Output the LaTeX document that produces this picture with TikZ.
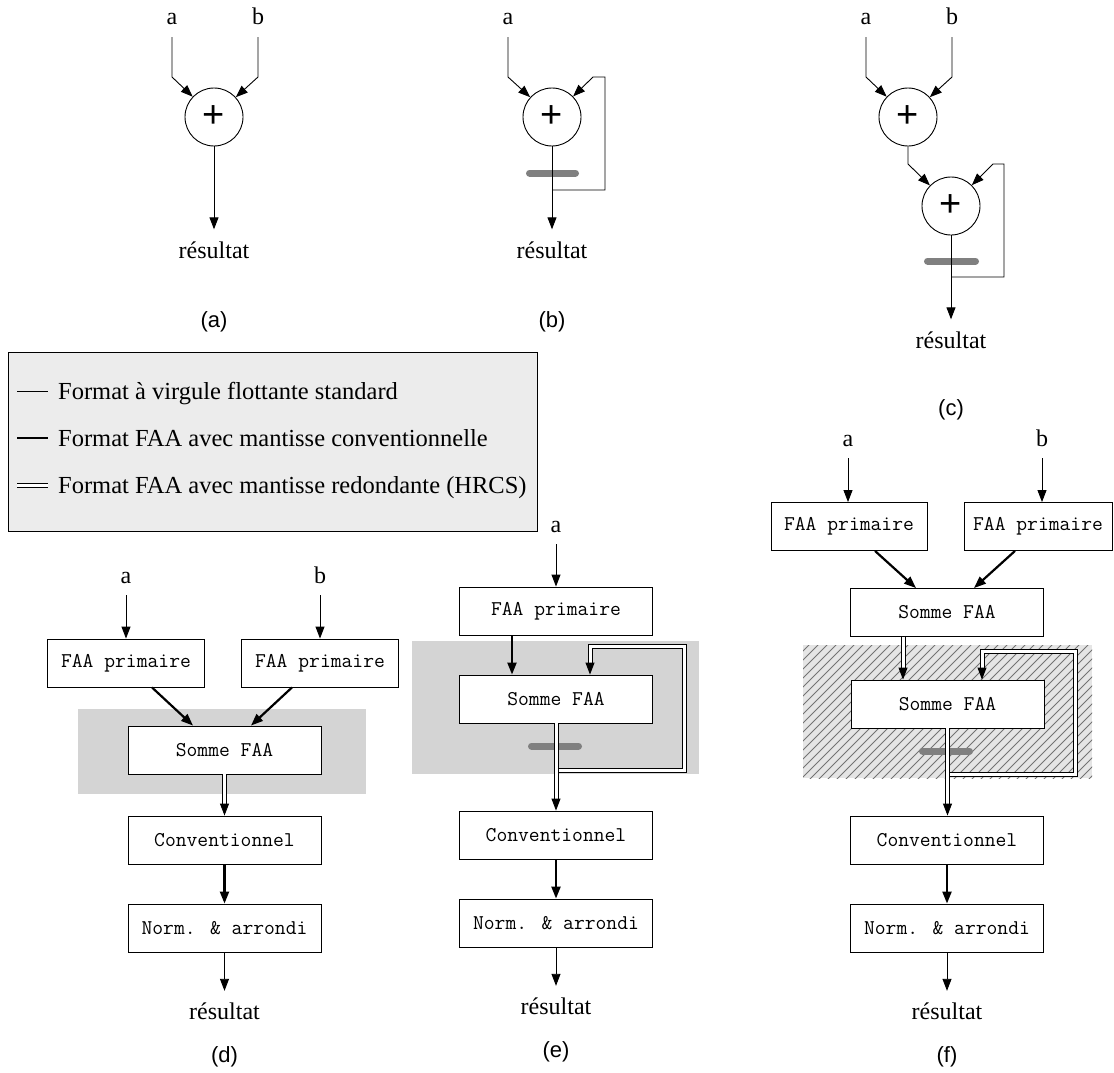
\documentclass[tikz,border=0pt]{standalone}
\usepackage{fontspec}
\setmainfont{Liberation Serif}
\setsansfont{Liberation Sans}
\usetikzlibrary{arrows.meta,calc}
\begin{document}
\begin{tikzpicture}[x=1pt,y=-1pt,
  thinln/.style={line width=0.9pt},
  thickln/.style={line width=2.2pt},
  dbl/.style={double, line width=1pt, double distance=3pt, line join=miter},
  arr/.style={-{Triangle[length=12pt,width=9pt]}},
  box/.style={draw, line width=0.9pt, fill=white, minimum height=48pt, inner sep=0pt, font=\ttfamily\fontsize{21}{23}\selectfont},
  adder/.style={circle, draw, line width=0.9pt, minimum size=58pt, inner sep=0pt, fill=white, font=\sffamily\fontsize{38}{40}\selectfont},
  lbl/.style={inner sep=0pt, outer sep=12pt, font=\rmfamily\fontsize{24}{28}\selectfont, anchor=base},
  capt/.style={font=\sffamily\fontsize{22}{26}\selectfont, inner sep=0pt},
  regbar/.style={line width=7pt, draw=gray, line cap=round},
  zone/.style={fill=gray!34},
  legtext/.style={font=\rmfamily\fontsize{24.5}{28}\selectfont, anchor=base west, inner sep=0pt},
]
\useasboundingbox (0,0) rectangle (1114,1073);

% ---------------- (a)
\node[lbl] (a_a) at (172,25) {a};
\node[lbl] (a_b) at (258,25) {b};
\node[adder] (a_add) at (214,117) {+};
\node[lbl] (a_res) at (214,258) {résultat};
\node[capt] (a_cap) at (214,322) {(a)};
\draw[thinln,arr] (a_a.south) -- (172,77) -- (a_add);
\draw[thinln,arr] (a_b.south) -- (258,77) -- (a_add);
\draw[thinln,arr] (a_add) -- (a_res.north);

% ---------------- (b)
\node[lbl] (b_a) at (508,25) {a};
\node[adder] (b_add) at (552,117) {+};
\node[lbl] (b_res) at (552,258) {résultat};
\node[capt] (b_cap) at (552,322) {(b)};
\coordinate (b_fb) at (552,190);
\draw[regbar] (529.5,173) -- (575.5,173);
\draw[thinln,arr] (b_a.south) -- (508,77) -- (b_add);
\draw[thinln,arr] (b_add) -- (b_res.north);
\draw[thinln,arr] (b_fb) -| (605,77) -- (593,77) -- (b_add);

% ---------------- (c)
\node[lbl] (c_a) at (866,25) {a};
\node[lbl] (c_b) at (952,25) {b};
\node[adder] (c_add1) at (908,117) {+};
\node[adder] (c_add2) at (951,206) {+};
\node[lbl] (c_res) at (951,348) {résultat};
\node[capt] (c_cap) at (951,410) {(c)};
\coordinate (c_fb) at (951,277);
\draw[regbar] (927.5,261) -- (975.5,261);
\draw[thinln,arr] (c_a.south) -- (866,77) -- (c_add1);
\draw[thinln,arr] (c_b.south) -- (952,77) -- (c_add1);
\draw[thinln,arr] (c_add1) -- (908,164) -- (c_add2);
\draw[thinln,arr] (c_add2) -- (c_res.north);
\draw[thinln,arr] (c_fb) -| (1004,164) -- (993,164) -- (c_add2);

% ---------------- legend
\node[draw, line width=0.9pt, fill=gray!15, minimum width=529pt, minimum height=179pt, inner sep=0pt] (legend) at (272.5,442) {};
\draw[thinln] (17,391) -- (48,391);
\draw[thickln] (17,438) -- (48,438);
\draw[dbl] (17,485) -- (48,485);
\node[legtext] (leg1) at (58,399) {Format à virgule flottante standard};
\node[legtext] (leg2) at (58,446) {Format FAA avec mantisse conventionnelle};
\node[legtext] (leg3) at (58,493) {Format FAA avec mantisse redondante (HRCS)};

% ---------------- (d)
\fill[zone] (78,709) rectangle (366,794);
\node[lbl] (d_a) at (126,583) {a};
\node[lbl] (d_b) at (320,583) {b};
\node[box, minimum width=157pt] (d_p1) at (126,663) {FAA primaire};
\node[box, minimum width=157pt] (d_p2) at (320,663) {FAA primaire};
\node[box, minimum width=193pt] (d_s) at (224.5,750) {Somme FAA};
\node[box, minimum width=193pt] (d_c) at (224.5,840) {Conventionnel};
\node[box, minimum width=193pt] (d_n) at (224.5,928) {Norm. \& arrondi};
\node[lbl] (d_res) at (224.5,1019.5) {résultat};
\node[capt] (d_cap) at (224.5,1057) {(d)};
\draw[thinln,arr] (d_a.south) -- (d_p1.north);
\draw[thinln,arr] (d_b.south) -- (d_p2.north);
\draw[thickln,arr] ($(d_p1.south)+(26,0)$) -- ($(d_s.north)+(-31.5,0)$);
\draw[thickln,arr] ($(d_p2.south)+(-28,0)$) -- ($(d_s.north)+(26.5,0)$);
\draw[dbl] (d_s.south) -- ($(d_c.north)+(0,-11)$);
\draw[thinln,arr] ($(d_c.north)+(0,-12)$) -- (d_c.north);
\draw[thickln,arr] (d_c.south) -- (d_n.north);
\draw[thinln,arr] (d_n.south) -- (d_res.north);

% ---------------- (e)
\fill[zone] (412,641) rectangle (699,774);
\node[lbl] (e_a) at (556,532) {a};
\node[box, minimum width=193pt] (e_p) at (556,611) {FAA primaire};
\node[box, minimum width=193pt] (e_s) at (556,699) {Somme FAA};
\node[box, minimum width=193pt] (e_c) at (556,835) {Conventionnel};
\node[box, minimum width=193pt] (e_n) at (556,923) {Norm. \& arrondi};
\node[lbl] (e_res) at (556,1014.5) {résultat};
\node[capt] (e_cap) at (556,1052) {(e)};
\coordinate (e_j) at (558.5,770);
\draw[regbar] (531.5,746) -- (578.5,746);
\draw[thinln,arr] (e_a.south) -- (e_p.north);
\draw[thickln,arr] ($(e_p.south)+(-44,0)$) -- ($(e_s.north)+(-44,0)$);
\draw[dbl] (e_s.south) -- ($(e_c.north)+(0,-11)$);
\draw[thinln,arr] ($(e_c.north)+(0,-12)$) -- (e_c.north);
\draw[dbl] (e_j) -| (684,646) -| ($(e_s.north)+(34,-11)$);
\draw[thinln,arr] ($(e_s.north)+(34,-12)$) -- ($(e_s.north)+(34,0)$);
\draw[thickln,arr] (e_c.south) -- (e_n.north);
\draw[thinln,arr] (e_n.south) -- (e_res.north);

% ---------------- (f)
\begin{scope}
  \clip (803,645) rectangle (1092,778);
  \fill[black!10] (803,645) rectangle (1092,778);
  \foreach \k in {0,...,48} \draw[line width=0.8pt, black!55] (665+\k*9,780) -- ++(140,-140);
\end{scope}
\node[lbl] (f_a) at (848,446) {a};
\node[lbl] (f_b) at (1042,446) {b};
\node[box, minimum width=156pt] (f_p1) at (849,526.5) {FAA primaire};
\node[box, minimum width=148pt] (f_p2) at (1038,526.5) {FAA primaire};
\node[box, minimum width=193pt] (f_s1) at (947,612.5) {Somme FAA};
\node[box, minimum width=193pt] (f_s2) at (947.5,704) {Somme FAA};
\node[box, minimum width=193pt] (f_c) at (947,840) {Conventionnel};
\node[box, minimum width=193pt] (f_n) at (947,928) {Norm. \& arrondi};
\node[lbl] (f_res) at (947,1019.5) {résultat};
\node[capt] (f_cap) at (947,1057) {(f)};
\coordinate (f_j) at (950,774);
\draw[regbar] (922.5,751) -- (969.5,751);
\draw[thinln,arr] (f_a.south) -- (f_a.south |- f_p1.north);
\draw[thinln,arr] (f_b.south) -- (f_b.south |- f_p2.north);
\draw[thickln,arr] ($(f_p1.south)+(26,0)$) -- ($(f_s1.north)+(-31,0)$);
\draw[thickln,arr] ($(f_p2.south)+(-23,0)$) -- ($(f_s1.north)+(27,0)$);
\draw[dbl] ($(f_s1.south)+(-44,0)$) -- ($(f_s2.north)+(-44.5,-11)$);
\draw[thinln,arr] ($(f_s2.north)+(-44.5,-12)$) -- ($(f_s2.north)+(-44.5,0)$);
\draw[dbl] (f_s2.south) -- ($(f_c.north)+(0.5,-11)$);
\draw[thinln,arr] ($(f_c.north)+(0.5,-12)$) -- ($(f_c.north)+(0.5,0)$);
\draw[dbl] (f_j) -| (1075,651) -| ($(f_s2.north)+(34.5,-11)$);
\draw[thinln,arr] ($(f_s2.north)+(34.5,-12)$) -- ($(f_s2.north)+(34.5,0)$);
\draw[thickln,arr] (f_c.south) -- (f_n.north);
\draw[thinln,arr] (f_n.south) -- (f_res.north);
\end{tikzpicture}
\end{document}
